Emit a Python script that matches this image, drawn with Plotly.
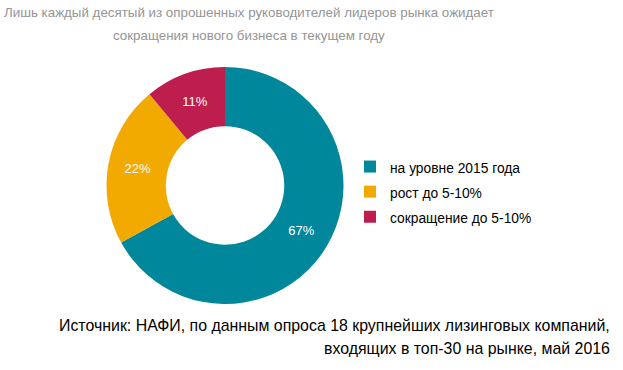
import plotly.graph_objects as go

labels = ["на уровне 2015 года", "рост до 5-10%", "сокращение до 5-10%"]
values = [67, 22, 11]
colors = ["#00879B", "#F2A900", "#BE1E4D"]

title_lines = ["Лишь каждый десятый из опрошенных руководителей лидеров рынка ожидает",
               "сокращения нового бизнеса в текущем году"]
source_lines = ["Источник: НАФИ, по данным опроса 18 крупнейших лизинговых компаний,",
                "входящих в топ-30 на рынке, май 2016"]

W, H = 623, 370
FONT = "Arial"

legend_labels = ['<span style="font-size:13.8px">%s</span>' % s for s in labels]

fig = go.Figure(go.Pie(
    labels=legend_labels,
    values=values,
    hole=0.5,
    sort=False,
    direction="clockwise",
    rotation=0,
    marker=dict(colors=colors, line=dict(width=0)),
    texttemplate="%{value}%",
    textposition="inside",
    insidetextorientation="horizontal",
    textfont=dict(family=FONT, size=13, color="white"),
    domain=dict(x=[106 / W, 344 / W], y=[(H - 304) / H, (H - 67) / H]),
    hoverinfo="percent",
))

annotations = []
for i, line in enumerate(title_lines):
    annotations.append(dict(
        text=line, x=249 / W, y=1 - (12.5 + 23 * i) / H, xref="paper", yref="paper",
        xanchor="center", yanchor="middle", showarrow=False,
        font=dict(family=FONT, size=13.35, color="#959595")))
for i, line in enumerate(source_lines):
    annotations.append(dict(
        text=line, x=612 / W, y=1 - (325 + 23 * i) / H, xref="paper", yref="paper",
        xanchor="right", yanchor="middle", showarrow=False,
        font=dict(family=FONT, size=15.9, color="black")))

fig.update_layout(
    width=W, height=H,
    margin=dict(l=0, r=0, t=0, b=0),
    paper_bgcolor="white",
    plot_bgcolor="white",
    showlegend=True,
    legend=dict(
        x=350 / W, y=(H - 149) / H, xanchor="left", yanchor="top",
        font=dict(family=FONT, size=17, color="black"),
        itemwidth=30,
        bgcolor="rgba(0,0,0,0)",
    ),
    annotations=annotations,
)

fig.write_html("out.html", config={"displayModeBar": False},
               post_script="document.body.style.margin='0';")
